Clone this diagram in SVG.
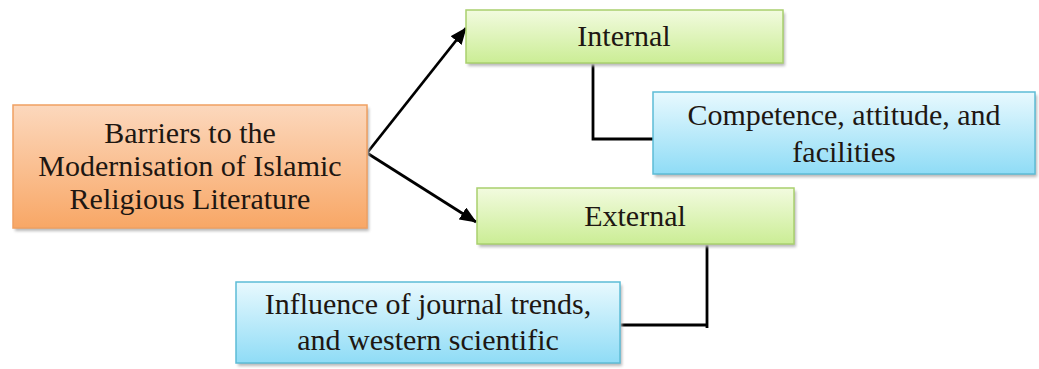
<svg xmlns="http://www.w3.org/2000/svg" width="1039" height="369" viewBox="0 0 1039 369">
<defs>
<linearGradient id="gOrange" x1="0" y1="0" x2="0" y2="1">
<stop offset="0" stop-color="#fcd8bd"/>
<stop offset="1" stop-color="#f8a766"/>
</linearGradient>
<linearGradient id="gGreen" x1="0" y1="0" x2="0" y2="1">
<stop offset="0" stop-color="#f2fbdf"/>
<stop offset="1" stop-color="#cbed95"/>
</linearGradient>
<linearGradient id="gBlue" x1="0" y1="0" x2="0" y2="1">
<stop offset="0" stop-color="#e8f9fe"/>
<stop offset="1" stop-color="#8fdcf6"/>
</linearGradient>
<filter id="sh" x="-5%" y="-10%" width="110%" height="130%">
<feGaussianBlur stdDeviation="1.5"/>
</filter>
<marker id="arr" markerWidth="17" markerHeight="14" refX="16" refY="7" orient="auto" markerUnits="userSpaceOnUse">
<path d="M0,0 L17,7 L0,14 Z" fill="#000"/>
</marker>
</defs>
<style>
.t{font-family:"Liberation Serif","Times New Roman",serif;font-size:30px;fill:#1e1712;text-anchor:middle}
.sh{fill:#b8b8b8;filter:url(#sh)}
.or{fill:url(#gOrange);stroke:#efa062;stroke-width:1.5}
.gr{fill:url(#gGreen);stroke:#a9d06e;stroke-width:1.5}
.bl{fill:url(#gBlue);stroke:#5cbcd6;stroke-width:1.5}
.c{fill:none;stroke:#000;stroke-width:2.8}
</style>
<rect width="1039" height="369" fill="#fff"/>
<g id="connectors">
<line class="c" x1="367" y1="153" x2="466" y2="28" marker-end="url(#arr)"/>
<line class="c" x1="367" y1="153" x2="476" y2="222" marker-end="url(#arr)"/>
<polyline class="c" points="593,63 593,139 653,139"/>
<polyline class="c" points="707,244 707,328"/>
<polyline class="c" points="707,325 620,325"/>
</g>
<g id="barriers">
<rect class="sh" x="15" y="108" width="354" height="123"/>
<rect class="or" x="13" y="105" width="354" height="123"/>
<text class="t" x="190" y="143">Barriers to the</text>
<text class="t" x="190" y="176">Modernisation of Islamic</text>
<text class="t" x="190" y="209">Religious Literature</text>
</g>
<g id="internal">
<rect class="sh" x="468" y="13" width="317" height="53"/>
<rect class="gr" x="466" y="10" width="317" height="53"/>
<text class="t" x="624" y="46">Internal</text>
</g>
<g id="competence">
<rect class="sh" x="655" y="95" width="382" height="82"/>
<rect class="bl" x="653" y="92" width="382" height="82"/>
<text class="t" x="844" y="125">Competence, attitude, and</text>
<text class="t" x="844" y="162">facilities</text>
</g>
<g id="external">
<rect class="sh" x="479" y="191" width="317" height="56"/>
<rect class="gr" x="477" y="188" width="317" height="56"/>
<text class="t" x="635" y="226">External</text>
</g>
<g id="influence">
<rect class="sh" x="238" y="285" width="384" height="81"/>
<rect class="bl" x="236" y="282" width="384" height="81"/>
<text class="t" x="428" y="314">Influence of journal trends,</text>
<text class="t" x="428" y="350">and western scientific</text>
</g>
</svg>
